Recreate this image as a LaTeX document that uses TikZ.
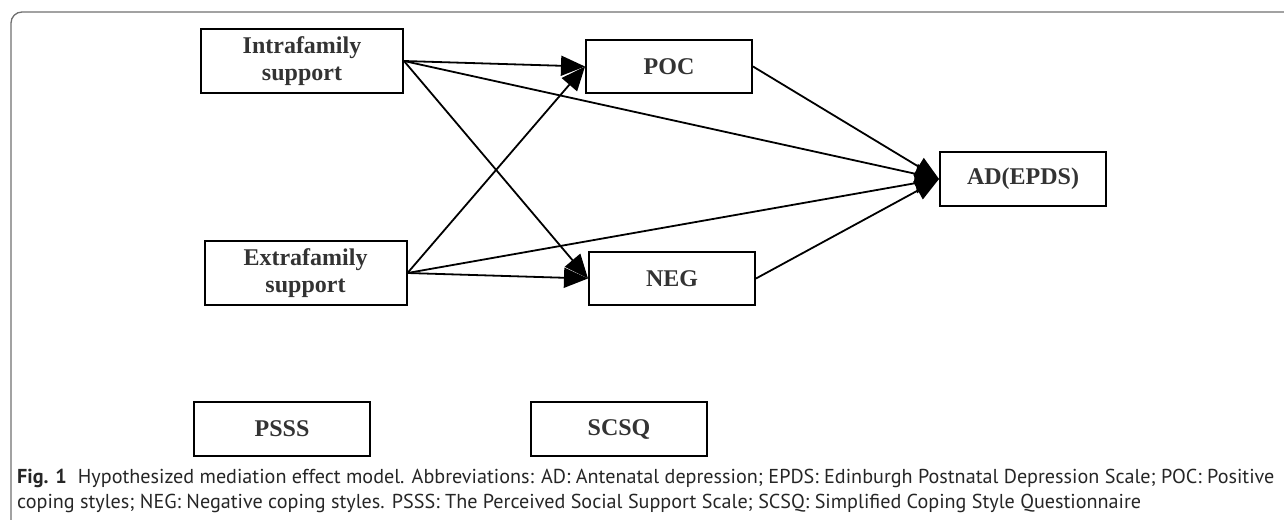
\documentclass[tikz,border=0pt]{standalone}
\usepackage{fontspec}
\setmainfont{Liberation Serif}
\newfontfamily\capfont{PT Sans}
\usetikzlibrary{arrows.meta}
\definecolor{boxtext}{HTML}{333333}
\definecolor{framegray}{HTML}{707070}

\begin{document}
\begin{tikzpicture}[x=1pt,y=-1pt,>={Triangle[length=24pt,width=20pt]},
  box/.style={draw,line width=2pt,inner sep=0pt,align=center,text=boxtext,
    font=\fontsize{24}{27}\selectfont\bfseries},
  big/.style={box,minimum width=202pt,minimum height=64pt},
  mid/.style={box,minimum width=166pt,minimum height=53pt},
  link/.style={->,line width=1.8pt},
  capline/.style={anchor=base west,inner sep=0pt,text=black!85,
    font=\capfont\fontsize{20.15}{25}\selectfont}]
  \useasboundingbox (0,0) rectangle (1284,519);
  \draw[framegray,line width=1.3pt,rounded corners=11pt] (1300,12) -- (11,12) -- (11,530);

  \node[big] (intra) at (302,61) {Intrafamily\\support};
  \node[big] (extra) at (305.5,273) {Extrafamily\\support};
  \node[mid] (poc) at (669,66.5) {POC};
  \node[mid] (neg) at (672,278.5) {NEG};
  \node[mid,minimum height=54pt] (ad) at (1023,179) {AD(EPDS)};
  \node[mid,minimum width=176pt,minimum height=54pt] (psss) at (282,429) {PSSS};
  \node[mid,minimum width=176pt,minimum height=54pt] (scsq) at (619,429) {SCSQ};

  \foreach \src in {intra,extra}
    \foreach \dst in {poc,neg,ad}
      \draw[link] (\src.east) -- (\dst.west);
  \draw[link] (poc.east) -- (ad.west);
  \draw[link] (neg.east) -- (ad.west);

  \node[capline] (cap1) at (17,483) {\textbf{Fig. 1}\hspace{0.55em}Hypothesized mediation effect model. Abbreviations: AD: Antenatal depression; EPDS: Edinburgh Postnatal Depression Scale; POC: Positive};
  \node[capline] (cap2) at (17,508) {coping styles; NEG: Negative coping styles. PSSS: The Perceived Social Support Scale; SCSQ: Simplified Coping Style Questionnaire};
\end{tikzpicture}
\end{document}
